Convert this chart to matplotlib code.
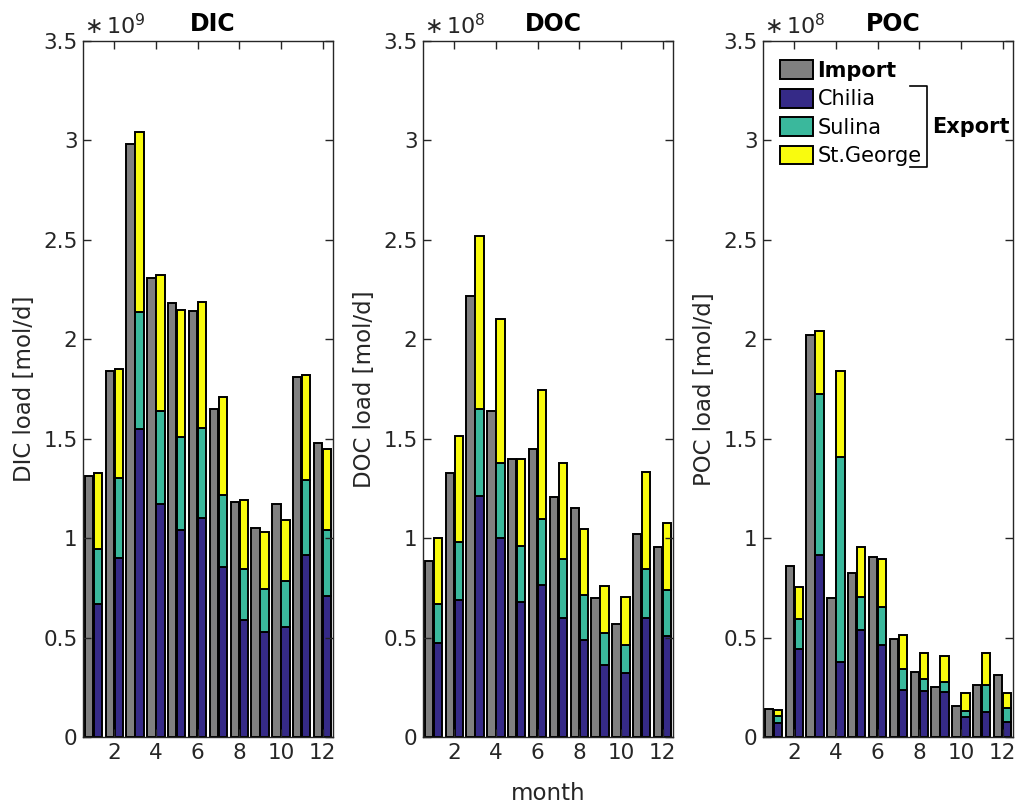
import matplotlib
matplotlib.use("Agg")
import matplotlib.pyplot as plt
from matplotlib.patches import Patch
import numpy as np

plt.rcParams["font.family"] = ["DejaVu Sans"]
plt.rcParams["mathtext.default"] = "regular"

months = list(range(1, 13))

# DIC loads, units of 1e9 mol/d
dic_import = [1.315, 1.84, 2.98, 2.31, 2.18, 2.14, 1.65, 1.18, 1.05, 1.17, 1.81, 1.477]
dic_chilia = [0.67, 0.90, 1.55, 1.17, 1.04, 1.10, 0.855, 0.59, 0.53, 0.555, 0.915, 0.71]
dic_sulina = [0.275, 0.40, 0.587, 0.47, 0.47, 0.455, 0.362, 0.255, 0.215, 0.23, 0.375, 0.33]
dic_stgeorge = [0.385, 0.55, 0.903, 0.685, 0.635, 0.635, 0.493, 0.345, 0.285, 0.305, 0.53, 0.41]

# DOC loads, units of 1e8 mol/d
doc_import = [0.885, 1.33, 2.22, 1.64, 1.396, 1.446, 1.205, 1.15, 0.70, 0.568, 1.022, 0.957]
doc_chilia = [0.474, 0.69, 1.21, 1.0, 0.68, 0.766, 0.60, 0.49, 0.362, 0.323, 0.60, 0.509]
doc_sulina = [0.196, 0.29, 0.437, 0.38, 0.28, 0.33, 0.296, 0.224, 0.161, 0.138, 0.245, 0.228]
doc_stgeorge = [0.33, 0.535, 0.873, 0.72, 0.44, 0.647, 0.484, 0.332, 0.237, 0.243, 0.489, 0.34]

# POC loads, units of 1e8 mol/d
poc_import = [0.139, 0.861, 2.02, 0.70, 0.823, 0.906, 0.493, 0.327, 0.25, 0.156, 0.263, 0.31]
poc_chilia = [0.069, 0.442, 0.917, 0.375, 0.538, 0.461, 0.236, 0.231, 0.228, 0.099, 0.124, 0.077]
poc_sulina = [0.037, 0.153, 0.807, 1.035, 0.167, 0.191, 0.104, 0.061, 0.05, 0.032, 0.136, 0.067]
poc_stgeorge = [0.03, 0.157, 0.316, 0.43, 0.249, 0.243, 0.173, 0.132, 0.129, 0.089, 0.16, 0.079]

panels = [
    ("DIC", 9, dic_import, dic_chilia, dic_sulina, dic_stgeorge),
    ("DOC", 8, doc_import, doc_chilia, doc_sulina, doc_stgeorge),
    ("POC", 8, poc_import, poc_chilia, poc_sulina, poc_stgeorge),
]

c_import = "#808080"
c_chilia = "#352A87"
c_sulina = "#3AB89C"
c_stgeorge = "#F9FB0E"
axis_col = "#262626"

fig = plt.figure(figsize=(10.22, 8.10), dpi=100)
W, H = 1022, 810
lefts = [83, 423, 763]
ax_w, top, bottom = 250, 41, 737

x = np.array(months, dtype=float)
off, bw = 0.215, 0.40
bar_kw = dict(edgecolor="black", linewidth=1.4)

axes = []
for left, (name, expo, imp, chi, sul, stg) in zip(lefts, panels):
    ax = fig.add_axes([left / W, 1 - bottom / H, ax_w / W, (bottom - top) / H])
    axes.append(ax)
    chi = np.array(chi); sul = np.array(sul); stg = np.array(stg)
    ax.bar(x - off, imp, bw, color=c_import, **bar_kw)
    ax.bar(x + off, chi, bw, color=c_chilia, **bar_kw)
    ax.bar(x + off, sul, bw, bottom=chi, color=c_sulina, **bar_kw)
    ax.bar(x + off, stg, bw, bottom=chi + sul, color=c_stgeorge, **bar_kw)

    ax.set_xlim(0.5, 12.5)
    ax.set_ylim(0, 3.5)
    ax.set_xticks([2, 4, 6, 8, 10, 12])
    ax.set_yticks(np.arange(0, 3.51, 0.5))
    ax.yaxis.set_major_formatter(matplotlib.ticker.FormatStrFormatter("%g"))
    ax.tick_params(direction="in", length=6, width=1, colors=axis_col,
                   labelsize=15.5, top=True, right=True, pad=4)
    for s in ax.spines.values():
        s.set_color(axis_col)
        s.set_linewidth(1.0)
    ax.set_ylabel(f"{name} load [mol/d]", fontsize=16.5, color=axis_col, labelpad=5)
    ax.set_title(name, fontsize=17, fontweight="bold", pad=7, x=0.52)
    ax.text(0.005, 1.004, r"$\ast\,10^{%d}$" % expo, transform=ax.transAxes,
            ha="left", va="bottom", fontsize=16, color=axis_col)

axes[1].set_xlabel("month", fontsize=16.5, color=axis_col, labelpad=14)

# legend in the POC panel
ax = axes[2]
handles = [
    Patch(facecolor=c_import, edgecolor="black", linewidth=1.4, label="Import"),
    Patch(facecolor=c_chilia, edgecolor="black", linewidth=1.4, label="Chilia"),
    Patch(facecolor=c_sulina, edgecolor="black", linewidth=1.4, label="Sulina"),
    Patch(facecolor=c_stgeorge, edgecolor="black", linewidth=1.4, label="St.George"),
]
leg = ax.legend(handles=handles, loc="upper left", bbox_to_anchor=(0.068, 0.972),
                frameon=False, fontsize=15, handlelength=1.6, handleheight=1.0,
                handletextpad=0.2, labelspacing=0.38, borderpad=0, borderaxespad=0)
leg.get_texts()[0].set_fontweight("bold")

# bracket grouping the export channels
bx0, bx1 = 0.588, 0.656
by0, by1 = 0.819, 0.935
ax.plot([bx0, bx1, bx1, bx0], [by1, by1, by0, by0], color="black", lw=1.2,
        transform=ax.transAxes, clip_on=False)
ax.text(0.675, 0.876, "Export", transform=ax.transAxes, fontsize=15,
        fontweight="bold", ha="left", va="center")

fig.savefig("out.png", dpi=100)
